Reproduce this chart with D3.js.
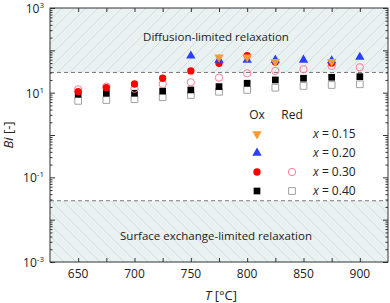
<!DOCTYPE html>
<html>
<head>
<meta charset="utf-8">
<script src="https://cdn.jsdelivr.net/npm/d3@7"></script>
<style>
  body { margin: 0; background: #fff; }
  svg text { font-family: "Open Sans", "Noto Sans", sans-serif; fill: #222; }
</style>
</head>
<body>
<div id="chart"></div>
<script>
// temperatures (°C)
var temps = [650, 675, 700, 725, 750, 775, 800, 825, 850, 875, 900];

// Bi values, oxidation (filled) and reduction (open); null = not shown
var ox015 = [null, null, null, null, null, 69, 69, 54, null, 54, null];
var ox020 = [null, null, null, null, 74, 59, 59, 59, 59, 57, 69];
var ox030 = [10.6, 13.1, 16.0, 21.9, 32.6, 49.5, 75, 53, null, 50, null];
var ox040 = [9.2, 9.7, 9.7, 10.9, 11.6, 13.9, 16.7, 20.0, 21.9, 23.1, 23.9];
var red030 = [12.0, 13.9, 12.4, 16.0, 17.6, 22.6, 28.7, 32.6, 35.8, 42.8, 39.8];
var red040 = [6.4, 6.7, 7.0, 7.8, 8.8, 10.5, 11.6, 13.1, 14.4, 15.2, 15.8];

// limits between regimes
var upperLimit = 30;
var lowerLimit = 0.028;

var xTicks = [650, 700, 750, 800, 850, 900];
var yLabelExp = [-3, -1, 1, 3];

var svgWidth = 390, svgHeight = 303;
var margin = { top: 8, right: 2, bottom: 41, left: 50 };
var chartWidth = svgWidth - margin.left - margin.right;
var chartHeight = svgHeight - margin.top - margin.bottom;

var svg = d3.select("#chart").append("svg")
  .attr("width", svgWidth)
  .attr("height", svgHeight);

// hatch patterns
var defs = svg.append("defs");
function hatch(id, dir) {
  var p = defs.append("pattern")
    .attr("id", id)
    .attr("patternUnits", "userSpaceOnUse")
    .attr("width", 12).attr("height", 12);
  p.append("rect").attr("width", 12).attr("height", 12).attr("fill", "#e9f1f1");
  if (dir > 0) {
    p.append("path").attr("d", "M0,12 L12,0 M-3,3 L3,-3 M9,15 L15,9");
  } else {
    p.append("path").attr("d", "M0,0 L12,12 M-3,9 L3,15 M9,-3 L15,3");
  }
  p.select("path").attr("stroke", "#cbdadc").attr("stroke-width", 0.8);
}
hatch("hatchUp", 1);
hatch("hatchDown", -1);

var chartGroup = svg.append("g")
  .attr("transform", `translate(${margin.left}, ${margin.top})`);

var xScale = d3.scaleLinear().domain([625, 925]).range([0, chartWidth]);
var yScale = d3.scaleLog().domain([1e-3, 1e3]).range([chartHeight, 0]);

// regions
chartGroup.append("rect")
  .attr("x", 0).attr("y", 0)
  .attr("width", chartWidth)
  .attr("height", yScale(upperLimit))
  .attr("fill", "url(#hatchUp)");
chartGroup.append("rect")
  .attr("x", 0).attr("y", yScale(lowerLimit))
  .attr("width", chartWidth)
  .attr("height", chartHeight - yScale(lowerLimit))
  .attr("fill", "url(#hatchDown)");

[upperLimit, lowerLimit].forEach(function(v) {
  chartGroup.append("line")
    .attr("x1", 0).attr("x2", chartWidth)
    .attr("y1", yScale(v)).attr("y2", yScale(v))
    .attr("stroke", "#7a7a7a")
    .attr("stroke-width", 1)
    .attr("stroke-dasharray", "4,3");
});

chartGroup.append("text")
  .attr("x", chartWidth / 2 - 3).attr("y", 33)
  .attr("text-anchor", "middle")
  .style("font-size", "11.5px")
  .text("Diffusion-limited relaxation");
chartGroup.append("text")
  .attr("x", chartWidth / 2 - 3).attr("y", 232)
  .attr("text-anchor", "middle")
  .style("font-size", "11.5px")
  .text("Surface exchange-limited relaxation");

// axes: ticks inward on all sides
var minorX = d3.range(625, 926, 25);
var yMajor = d3.range(-3, 4).map(e => Math.pow(10, e));
var yMinor = [];
for (var e = -3; e < 3; e++) {
  for (var k = 2; k < 10; k++) yMinor.push(k * Math.pow(10, e));
}

chartGroup.append("g")
  .attr("transform", `translate(0, ${chartHeight})`)
  .call(d3.axisBottom(xScale).tickValues(minorX.slice(1, -1)).tickSize(-4).tickFormat(""))
  .call(g => g.select(".domain").remove());
chartGroup.append("g")
  .call(d3.axisTop(xScale).tickValues(minorX.slice(1, -1)).tickSize(-4).tickFormat(""))
  .call(g => g.select(".domain").remove());

chartGroup.append("g")
  .call(d3.axisLeft(yScale).tickValues(yMajor).tickSize(-5).tickFormat(""))
  .call(g => g.select(".domain").remove());
chartGroup.append("g")
  .call(d3.axisLeft(yScale).tickValues(yMinor).tickSize(-2.5).tickFormat(""))
  .call(g => g.select(".domain").remove());
chartGroup.append("g")
  .attr("transform", `translate(${chartWidth}, 0)`)
  .call(d3.axisRight(yScale).tickValues(yMajor).tickSize(-5).tickFormat(""))
  .call(g => g.select(".domain").remove());
chartGroup.append("g")
  .attr("transform", `translate(${chartWidth}, 0)`)
  .call(d3.axisRight(yScale).tickValues(yMinor).tickSize(-2.5).tickFormat(""))
  .call(g => g.select(".domain").remove());

chartGroup.selectAll(".tick line").attr("stroke", "#333");

// frame
chartGroup.append("rect")
  .attr("width", chartWidth).attr("height", chartHeight)
  .attr("fill", "none").attr("stroke", "#333").attr("stroke-width", 1);

// x tick labels
chartGroup.selectAll(".xlab")
  .data(xTicks).enter().append("text")
  .attr("x", d => xScale(d))
  .attr("y", chartHeight + 16)
  .attr("text-anchor", "middle")
  .style("font-size", "12px")
  .text(d => d);

// y tick labels
var yl = chartGroup.selectAll(".ylab")
  .data(yLabelExp).enter().append("text")
  .attr("x", -6)
  .attr("y", d => yScale(Math.pow(10, d)) + 5)
  .attr("text-anchor", "end")
  .style("font-size", "12px");
yl.append("tspan").text("10");
yl.append("tspan").attr("dy", -5).style("font-size", "8px").text(d => d);

// axis titles
var yt = chartGroup.append("text")
  .attr("transform", `translate(${-margin.left + 13}, ${chartHeight / 2}) rotate(-90)`)
  .attr("text-anchor", "middle")
  .style("font-size", "13px");
yt.append("tspan").style("font-style", "italic").text("Bi");
yt.append("tspan").text(" [-]");

var xt = chartGroup.append("text")
  .attr("x", xScale(775) + 2)
  .attr("y", chartHeight + 38)
  .attr("text-anchor", "middle")
  .style("font-size", "13px");
xt.append("tspan").style("font-style", "italic").text("T");
xt.append("tspan").text(" [°C]");

// markers
var sym = {
  down: d3.symbol().type(d3.symbolTriangle).size(38),
  up: d3.symbol().type(d3.symbolTriangle).size(38),
  circle: d3.symbol().type(d3.symbolCircle).size(42),
  square: d3.symbol().type(d3.symbolSquare).size(45)
};

var series = [
  { vals: red040, shape: "square", fill: "none", stroke: "#a0a0a0" },
  { vals: ox040, shape: "square", fill: "#000", stroke: "none" },
  { vals: red030, shape: "circle", fill: "none", stroke: "#ff7d95" },
  { vals: ox030, shape: "circle", fill: "#ff0000", stroke: "none" },
  { vals: ox020, shape: "up", fill: "#2a3fff", stroke: "none" },
  { vals: ox015, shape: "down", fill: "#ff9a2e", stroke: "none" }
];

function drawMark(g, s, x, y) {
  g.append("path")
    .attr("d", sym[s.shape]())
    .attr("transform", `translate(${x}, ${y})` + (s.shape === "down" ? " rotate(180)" : ""))
    .attr("fill", s.fill)
    .attr("stroke", s.stroke)
    .attr("stroke-width", 1);
}

series.forEach(function(s) {
  s.vals.forEach(function(v, i) {
    if (v === null) return;
    drawMark(chartGroup, s, xScale(temps[i]), yScale(v));
  });
});

// legend
var legend = chartGroup.append("g");
legend.append("text").attr("x", 207).attr("y", 111).attr("text-anchor", "middle")
  .style("font-size", "12px").text("Ox");
legend.append("text").attr("x", 242).attr("y", 111).attr("text-anchor", "middle")
  .style("font-size", "12px").text("Red");

var legendRows = [
  { label: "0.15", ox: series[5], red: null },
  { label: "0.20", ox: series[4], red: null },
  { label: "0.30", ox: series[3], red: series[2] },
  { label: "0.40", ox: series[1], red: series[0] }
];
legendRows.forEach(function(r, i) {
  var y = 126 + i * 19;
  drawMark(legend, r.ox, 207, y);
  if (r.red) drawMark(legend, r.red, 242, y);
  var t = legend.append("text").attr("x", 263).attr("y", y + 4).style("font-size", "12px");
  t.append("tspan").style("font-style", "italic").text("x");
  t.append("tspan").text(" = " + r.label);
});
</script>
</body>
</html>
